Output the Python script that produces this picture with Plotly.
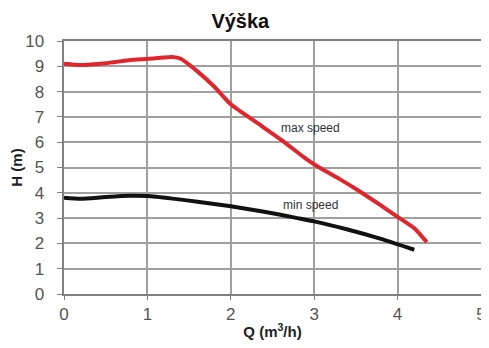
import plotly.graph_objects as go

q_max = [0, 0.2, 0.5, 0.8, 1.1, 1.3, 1.4, 1.6, 1.8, 2.0, 2.3, 2.6, 2.9, 3.0, 3.3, 3.5, 3.8, 4.0, 4.2, 4.35]
h_max = [9.1, 9.05, 9.12, 9.25, 9.32, 9.37, 9.3, 8.8, 8.2, 7.5, 6.8, 6.1, 5.35, 5.12, 4.55, 4.15, 3.5, 3.05, 2.6, 2.05]

q_min = [0, 0.2, 0.5, 0.8, 1.0, 1.3, 1.6, 2.0, 2.4, 2.8, 3.0, 3.4, 3.8, 4.2]
h_min = [3.8, 3.76, 3.83, 3.88, 3.87, 3.77, 3.65, 3.47, 3.25, 3.0, 2.87, 2.55, 2.18, 1.75]

labels = ["max speed", "min speed"]
label_pos = [(2.95, 6.56), (2.95, 3.52)]

fig = go.Figure()
fig.add_trace(go.Scatter(x=q_max, y=h_max, mode="lines", name=labels[0],
                         line=dict(color="#e0262c", width=4, shape="spline", smoothing=0.6)))
fig.add_trace(go.Scatter(x=q_min, y=h_min, mode="lines", name=labels[1],
                         line=dict(color="#111111", width=4, shape="spline", smoothing=0.6)))

for t, (x, y) in zip(labels, label_pos):
    fig.add_annotation(x=x, y=y, text=t, showarrow=False,
                       font=dict(family="Liberation Sans, Arial", size=12, color="#333333"))

fig.update_layout(
    width=481, height=332,
    margin=dict(l=56, r=8, t=33, b=46, autoexpand=False),
    paper_bgcolor="white", plot_bgcolor="white",
    showlegend=False,
    title=dict(text="<b>Výška</b>", x=0.483, xanchor="center", y=1 - 13 / 332, yanchor="middle",
               font=dict(family="Liberation Sans, Arial", size=20, color="#111111")),
    font=dict(family="Liberation Sans, Arial"),
)
fig.update_xaxes(range=[0, 5], dtick=1, showgrid=True, gridcolor="#a0a0a0", gridwidth=1.5,
                 showline=True, linecolor="#808080", linewidth=2, mirror=True,
                 ticks="outside", ticklen=4, tickcolor="#808080", automargin=False,
                 ticklabeloverflow="allow",
                 tickfont=dict(size=17, color="#555555"), zeroline=False,
                 title=dict(text="<b>Q (m<sup>3</sup>/h)</b>", font=dict(size=15, color="#222222"), standoff=4))
fig.update_yaxes(range=[0, 10], dtick=1, showgrid=True, gridcolor="#a0a0a0", gridwidth=1.5,
                 showline=True, linecolor="#808080", linewidth=2, mirror=True,
                 ticks="outside", ticklen=5, tickcolor="#808080", automargin=False,
                 ticklabeloverflow="allow", ticksuffix="\u00a0\u00a0",
                 tickfont=dict(size=17, color="#555555"), zeroline=False,
                 title=dict(text="<b>H (m)</b>", font=dict(size=15, color="#222222"), standoff=2))

fig.write_html("out.html")
